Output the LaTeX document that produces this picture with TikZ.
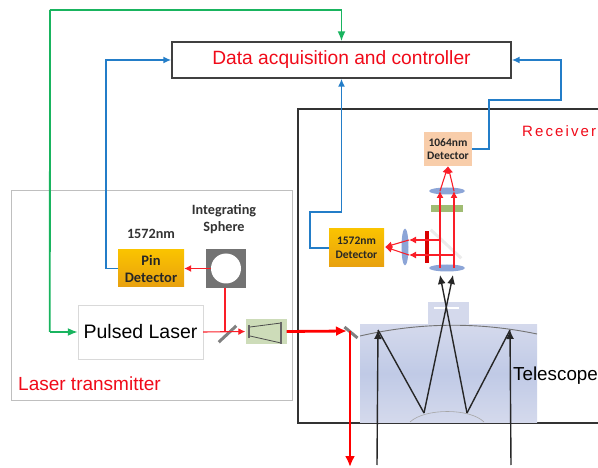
\documentclass[tikz,border=0pt]{standalone}
\usepackage{fontspec}
\setmainfont{Liberation Sans}
\newfontfamily\labelfont{Carlito}
\usetikzlibrary{shapes.geometric, arrows.meta, positioning}
\definecolor{lineblue}{RGB}{35,125,200}
\definecolor{linegreen}{RGB}{25,180,95}
\definecolor{textred}{RGB}{240,10,25}
\definecolor{beamred}{RGB}{250,30,40}
\definecolor{lensblue}{RGB}{140,165,215}
\definecolor{goldtop}{RGB}{250,195,0}
\definecolor{goldbottom}{RGB}{232,160,15}
\definecolor{scopelight}{RGB}{212,217,236}
\definecolor{scopemid}{RGB}{192,202,230}
\definecolor{filterolive}{RGB}{160,188,115}
\definecolor{expanderolive}{RGB}{205,220,185}
\definecolor{peach}{RGB}{248,205,170}
\tikzstyle{box} = [
rectangle,
inner sep=0pt,
text=black,
align=center]
\tikzstyle{pinbox} = [
box,
top color=goldtop,
bottom color=goldbottom,
text=black!85,
font=\labelfont\bfseries\fontsize{14.5}{17}\selectfont]
\tikzstyle{smallbox} = [
box,
text=black!85,
font=\labelfont\bfseries\fontsize{11.5}{13.5}\selectfont]
\tikzstyle{caption} = [
inner sep=0pt,
align=center,
text=black!80,
font=\labelfont\bfseries\fontsize{14.2}{17}\selectfont]
\tikzstyle{redtext} = [
inner sep=0pt,
text=textred]
\tikzstyle{lens} = [
ellipse,
inner sep=0pt,
fill=lensblue]
\tikzstyle{mirror} = [
rectangle,
inner sep=0pt,
fill=gray]
\tikzstyle{blueline} = [
draw=lineblue,
line width=1.8pt,
-{Latex[length=8pt,width=7pt]}]
\tikzstyle{greenline} = [
draw=linegreen,
line width=1.8pt,
-{Latex[length=10pt,width=8pt]}]
\tikzstyle{thinbeam} = [
draw=beamred,
line width=1.1pt,
-{Latex[length=7pt,width=7pt]}]
\tikzstyle{thickbeam} = [
draw=red,
line width=2.8pt,
-{Latex[length=11pt,width=10pt]}]
\tikzstyle{ray} = [
draw=black!85,
line width=1.4pt]
\tikzstyle{rayarrow} = [
ray,
-{Latex[length=9pt,width=8pt]}]

\begin{document}
\begin{tikzpicture}[x=1pt, y=-1pt]
\useasboundingbox (0,0) rectangle (598,468);

% frames
\draw[gray!50, thin] (11,190) rectangle (292,400);
\draw[black!80, line width=2pt] (598,109) -- (298,109) -- (298,423) -- (598,423);

% telescope
\node[box, minimum width=177pt, minimum height=97pt, top color=scopelight, bottom color=scopelight, middle color=scopemid] (telescopeBody) at (448.5,373.5) {};
\node[box, minimum width=41pt, minimum height=23pt, fill=scopelight] (telescopeTop) at (448.5,313.5) {};
\node[box, minimum width=25pt, minimum height=2pt, fill=white] (secondaryMirror) at (446,308) {};
\draw[gray!90!black, line width=0.9pt] (360,336) .. controls (420,322) and (480,322) .. (537,334);
\draw[gray!70, line width=0.6pt] (410,422) .. controls (425,408) and (470,408) .. (484,422);

% main boxes
\node[box, draw=black!75, line width=1.4pt, minimum width=339pt, minimum height=36pt, text=textred, font=\fontsize{19.2}{21}\selectfont] (controller) at (341.5,60) {Data acquisition and controller};
\node[box, draw=gray!30, minimum width=125pt, minimum height=54pt, font=\fontsize{19.5}{21}\selectfont] (laser) at (140.5,332) {Pulsed Laser};
\node[pinbox, minimum width=66pt, minimum height=37pt] (pinDetector) at (151,268.5) {Pin\\Detector};
\node[box, fill=gray!90!black, minimum width=40pt, minimum height=39pt] (sphereBox) at (226,268.5) {};
\node[circle, fill=white, minimum size=30pt, inner sep=0pt] (sphere) at (226,268.5) {};
\node[box, fill=expanderolive, minimum width=41pt, minimum height=25pt] (expander) at (266,331.5) {};
\node[pinbox, font=\labelfont\bfseries\fontsize{11.5}{13.5}\selectfont, minimum width=55pt, minimum height=38pt] (detectorA) at (356.5,248) {1572nm\\Detector};
\node[smallbox, fill=peach, minimum width=48pt, minimum height=34pt] (detectorB) at (448,149) {1064nm\\Detector};

% captions
\node[caption] (pinCaption) at (151,234) {1572nm};
\node[caption] (sphereCaption) at (224,219.5) {Integrating\\Sphere};
\node[redtext, anchor=west, font=\fontsize{19}{21}\selectfont] (transmitterLabel) at (18,384) {Laser transmitter};
\node[redtext, anchor=west, font=\addfontfeature{LetterSpace=14}\fontsize{15}{17}\selectfont] (receiverLabel) at (522,131) {Receiver};
\node[box, anchor=west, font=\fontsize{18.8}{20}\selectfont] (telescopeLabel) at (513,376) {Telescope};

% optics
\node[lens, minimum width=36pt, minimum height=7pt] (upperLens) at (447,191) {};
\node[lens, minimum width=36pt, minimum height=7pt] (lowerLens) at (447,268) {};
\node[lens, minimum width=7pt, minimum height=37pt] (sideLens) at (405,247) {};
\node[box, fill=filterolive, minimum width=32pt, minimum height=7pt] (filterPlate) at (447,208.5) {};
\node[mirror, fill=gray!15, minimum width=42pt, minimum height=3pt, rotate=-43] (dichroic) at (446,244) {};
\node[box, fill=red!85!black, minimum width=4.5pt, minimum height=32pt] (blockPlate) at (427,247) {};
\node[mirror, minimum width=24pt, minimum height=3pt, rotate=43] (splitter) at (227.5,334) {};
\node[mirror, minimum width=17pt, minimum height=3pt, rotate=-40] (foldMirror) at (351,332.5) {};

% beam expander
\coordinate (expanderA) at (250,327);
\coordinate (expanderB) at (250,336);
\coordinate (expanderC) at (281,323);
\coordinate (expanderD) at (281,343);
\draw[black!70, line width=0.8pt] (expanderA) -- (expanderC) (expanderB) -- (expanderD);
\draw[black!60, line width=1.6pt] (249,325) -- (249,338) (281,322) -- (281,344);

% signal lines
\draw[greenline] (laser.west) ++(-28,0) coordinate (greenCorner) -- (laser.west);
\coordinate (greenTop) at (50,10);
\draw[draw=linegreen, line width=1.8pt] (greenCorner) -- (greenTop);
\draw[greenline] (greenTop) -| (controller.north);
\coordinate (pinTurn) at (106,60);
\draw[blueline] (pinDetector.west) -| (pinTurn) -- (controller.west);
\coordinate (aTurnLow) at (310,212);
\draw[blueline] (detectorA.west) -| (aTurnLow) -| (controller.south);
\coordinate (bTurnLow) at (489,100);
\coordinate (bTurnHigh) at (561,60);
\draw[blueline] (detectorB.east) -| (bTurnLow) -| (bTurnHigh) -- (controller.east);

% transmitter beams
\coordinate (tapPoint) at (225,332);
\draw[thinbeam] (sphere.west) -- (pinDetector.east);
\draw[draw=beamred, line width=1.1pt] (tapPoint) -- (225,288);
\draw[thinbeam] (laser.east) -- (expander.west);
\coordinate (foldIn) at (347,331);
\coordinate (foldPoint) at (350,331);
\coordinate (exitPoint) at (350,467);
\draw[thickbeam] (expander.east) -- (foldIn);
\draw[thickbeam] (foldPoint) -- (exitPoint);

% receiver beams
\coordinate (beamLeftLow) at (440,268);
\coordinate (beamRightLow) at (454,268);
\coordinate (beamLeftHigh) at (440,191);
\coordinate (beamRightHigh) at (454,191);
\coordinate (foldLeft) at (440,240);
\coordinate (foldRight) at (454,255);
\coordinate (sideTop) at (409,240);
\coordinate (sideBottom) at (409,255);
\coordinate (sideFocus) at (385,247);
\draw[thinbeam] (beamLeftLow) -- (beamLeftHigh);
\draw[thinbeam] (beamRightLow) -- (beamRightHigh);
\draw[thinbeam] (beamLeftHigh) -- (detectorB.south);
\draw[thinbeam] (beamRightHigh) -- (detectorB.south);
\draw[thinbeam] (foldLeft) -- (sideTop);
\draw[thinbeam] (foldRight) -- (sideBottom);
\draw[thinbeam] (sideTop) -- (sideFocus);
\draw[thinbeam] (sideBottom) -- (sideFocus);

% telescope rays
\coordinate (rayLeftIn) at (377,465);
\coordinate (rayRightIn) at (511,465);
\coordinate (rayLeftTop) at (378,330);
\coordinate (rayRightTop) at (510,330);
\coordinate (rayLeftLow) at (424,413);
\coordinate (rayRightLow) at (467,413);
\coordinate (rayLeftEnd) at (453,275);
\coordinate (rayRightEnd) at (440,275);
\draw[rayarrow] (rayLeftIn) -- (rayLeftTop);
\draw[rayarrow] (rayRightIn) -- (rayRightTop);
\draw[ray] (rayLeftTop) -- (rayLeftLow);
\draw[ray] (rayRightTop) -- (rayRightLow);
\draw[rayarrow] (rayLeftLow) -- (rayLeftEnd);
\draw[rayarrow] (rayRightLow) -- (rayRightEnd);

\end{tikzpicture}
\end{document}
